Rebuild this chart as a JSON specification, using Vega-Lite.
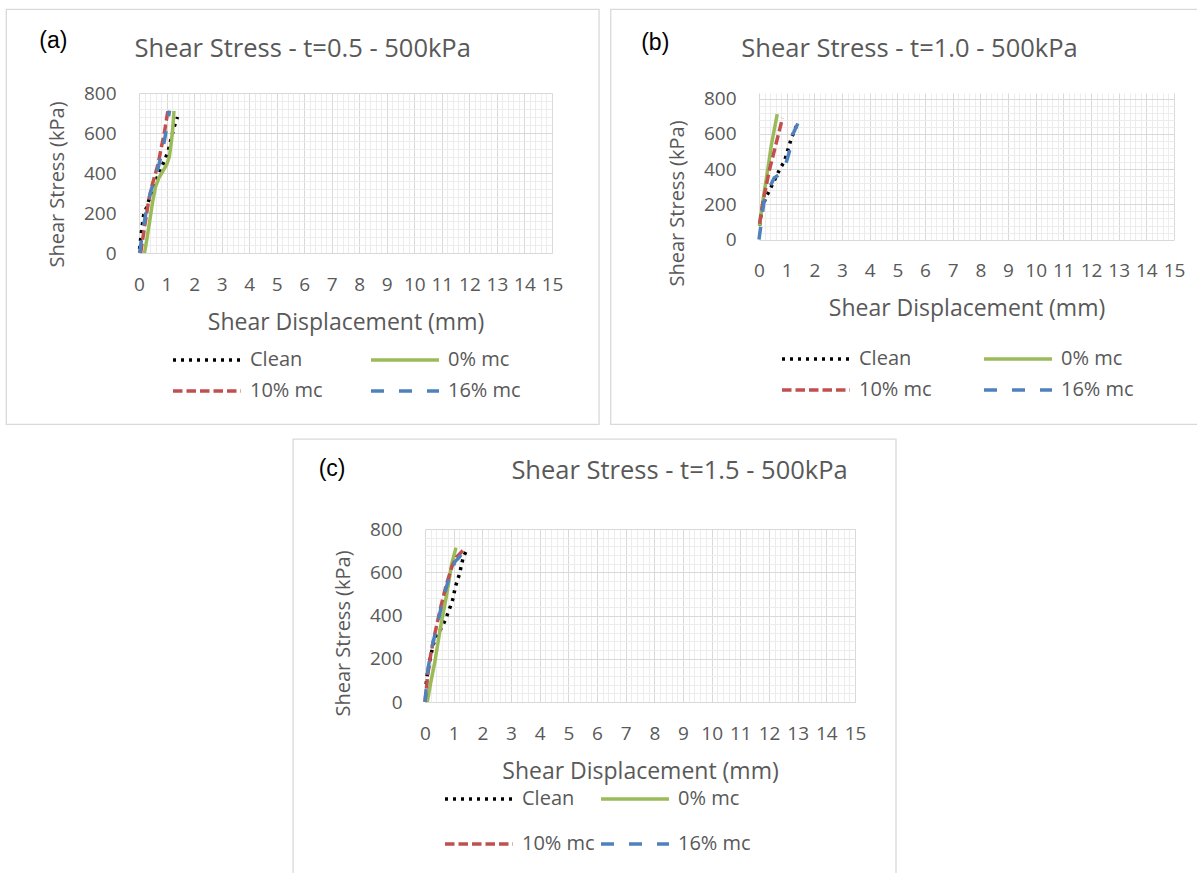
{
  "$schema": "https://vega.github.io/schema/vega-lite/v6.json",
  "background": "white",
  "padding": {"left": 5, "top": 8, "right": 0, "bottom": 0},
  "config": {
    "view": {"stroke": null},
    "axis": {
      "labelFont": "Open Sans", "labelFontSize": 19, "labelColor": "#595959",
      "titleFont": "Open Sans", "titleFontWeight": "normal", "titleColor": "#595959",
      "domain": false, "ticks": false, "grid": true, "gridWidth": 1, "gridOpacity": 1,
      "labelOverlap": false, "labelFlush": false
    },
    "axisX": {"titleFontSize": 23, "labelPadding": 22, "titlePadding": 17},
    "axisY": {"titleFontSize": 20, "labelPadding": 23, "titlePadding": 16},
    "title": {"font": "Open Sans", "fontSize": 25.5, "fontWeight": "normal", "color": "#595959", "baseline": "middle", "anchor": "middle", "frame": "bounds"},
    "legend": {
      "orient": "none", "direction": "horizontal", "columns": 2, "symbolType": "stroke", "symbolSize": 4624,
      "symbolStrokeWidth": 3.5, "labelOffset": 7, "labelFont": "Open Sans", "clipHeight": 20,
      "labelFontSize": 20, "labelColor": "#595959", "padding": 0, "title": null
    }
  },
  "datasets": {
    "t05": [
      {"series": "Clean", "disp": 0.02, "stress": 20}, {"series": "Clean", "disp": 0.1, "stress": 120}, {"series": "Clean", "disp": 0.17, "stress": 190}, {"series": "Clean", "disp": 0.28, "stress": 230}, {"series": "Clean", "disp": 0.45, "stress": 305}, {"series": "Clean", "disp": 0.6, "stress": 360}, {"series": "Clean", "disp": 0.75, "stress": 405}, {"series": "Clean", "disp": 0.9, "stress": 455}, {"series": "Clean", "disp": 1.05, "stress": 505}, {"series": "Clean", "disp": 1.2, "stress": 590}, {"series": "Clean", "disp": 1.3, "stress": 640}, {"series": "Clean", "disp": 1.4, "stress": 680},
      {"series": "0% mc", "disp": 0.2, "stress": 0}, {"series": "0% mc", "disp": 0.3, "stress": 80}, {"series": "0% mc", "disp": 0.4, "stress": 170}, {"series": "0% mc", "disp": 0.5, "stress": 260}, {"series": "0% mc", "disp": 0.6, "stress": 330}, {"series": "0% mc", "disp": 0.72, "stress": 375}, {"series": "0% mc", "disp": 0.87, "stress": 410}, {"series": "0% mc", "disp": 1.0, "stress": 440}, {"series": "0% mc", "disp": 1.1, "stress": 480}, {"series": "0% mc", "disp": 1.18, "stress": 560}, {"series": "0% mc", "disp": 1.23, "stress": 630}, {"series": "0% mc", "disp": 1.27, "stress": 710},
      {"series": "10% mc", "disp": 0.06, "stress": 0}, {"series": "10% mc", "disp": 0.2, "stress": 130}, {"series": "10% mc", "disp": 0.35, "stress": 260}, {"series": "10% mc", "disp": 0.45, "stress": 325}, {"series": "10% mc", "disp": 0.57, "stress": 385}, {"series": "10% mc", "disp": 0.69, "stress": 442}, {"series": "10% mc", "disp": 0.8, "stress": 520}, {"series": "10% mc", "disp": 0.93, "stress": 608}, {"series": "10% mc", "disp": 1.05, "stress": 712},
      {"series": "16% mc", "disp": 0.02, "stress": 0}, {"series": "16% mc", "disp": 0.15, "stress": 120}, {"series": "16% mc", "disp": 0.3, "stress": 240}, {"series": "16% mc", "disp": 0.45, "stress": 320}, {"series": "16% mc", "disp": 0.57, "stress": 360}, {"series": "16% mc", "disp": 0.72, "stress": 440}, {"series": "16% mc", "disp": 0.87, "stress": 525}, {"series": "16% mc", "disp": 1.0, "stress": 620}, {"series": "16% mc", "disp": 1.11, "stress": 712}
    ],
    "t10": [
      {"series": "Clean", "disp": 0.02, "stress": 80}, {"series": "Clean", "disp": 0.12, "stress": 180}, {"series": "Clean", "disp": 0.24, "stress": 236}, {"series": "Clean", "disp": 0.39, "stress": 283}, {"series": "Clean", "disp": 0.6, "stress": 350}, {"series": "Clean", "disp": 0.77, "stress": 406}, {"series": "Clean", "disp": 0.92, "stress": 444}, {"series": "Clean", "disp": 1.1, "stress": 539}, {"series": "Clean", "disp": 1.18, "stress": 580}, {"series": "Clean", "disp": 1.4, "stress": 662},
      {"series": "0% mc", "disp": 0.02, "stress": 80}, {"series": "0% mc", "disp": 0.15, "stress": 230}, {"series": "0% mc", "disp": 0.3, "stress": 380}, {"series": "0% mc", "disp": 0.45, "stress": 540}, {"series": "0% mc", "disp": 0.66, "stress": 712},
      {"series": "10% mc", "disp": 0.02, "stress": 90}, {"series": "10% mc", "disp": 0.15, "stress": 220}, {"series": "10% mc", "disp": 0.37, "stress": 390}, {"series": "10% mc", "disp": 0.61, "stress": 540}, {"series": "10% mc", "disp": 0.85, "stress": 690},
      {"series": "16% mc", "disp": 0.0, "stress": 0}, {"series": "16% mc", "disp": 0.1, "stress": 120}, {"series": "16% mc", "disp": 0.18, "stress": 217}, {"series": "16% mc", "disp": 0.37, "stress": 293}, {"series": "16% mc", "disp": 0.55, "stress": 350}, {"series": "16% mc", "disp": 0.73, "stress": 369}, {"series": "16% mc", "disp": 0.98, "stress": 435}, {"series": "16% mc", "disp": 1.1, "stress": 501}, {"series": "16% mc", "disp": 1.22, "stress": 596}, {"series": "16% mc", "disp": 1.44, "stress": 671}
    ],
    "t15": [
      {"series": "Clean", "disp": 0.04, "stress": 82}, {"series": "Clean", "disp": 0.08, "stress": 128}, {"series": "Clean", "disp": 0.18, "stress": 200}, {"series": "Clean", "disp": 0.29, "stress": 267}, {"series": "Clean", "disp": 0.43, "stress": 313}, {"series": "Clean", "disp": 0.58, "stress": 344}, {"series": "Clean", "disp": 0.72, "stress": 383}, {"series": "Clean", "disp": 0.89, "stress": 444}, {"series": "Clean", "disp": 0.99, "stress": 483}, {"series": "Clean", "disp": 1.05, "stress": 529}, {"series": "Clean", "disp": 1.2, "stress": 591}, {"series": "Clean", "disp": 1.28, "stress": 637}, {"series": "Clean", "disp": 1.33, "stress": 668}, {"series": "Clean", "disp": 1.45, "stress": 702},
      {"series": "0% mc", "disp": 0.08, "stress": 0}, {"series": "0% mc", "disp": 0.2, "stress": 90}, {"series": "0% mc", "disp": 0.35, "stress": 190}, {"series": "0% mc", "disp": 0.52, "stress": 329}, {"series": "0% mc", "disp": 0.76, "stress": 499}, {"series": "0% mc", "disp": 0.93, "stress": 637}, {"series": "0% mc", "disp": 1.08, "stress": 714},
      {"series": "10% mc", "disp": 0.0, "stress": 0}, {"series": "10% mc", "disp": 0.1, "stress": 130}, {"series": "10% mc", "disp": 0.2, "stress": 220}, {"series": "10% mc", "disp": 0.35, "stress": 320}, {"series": "10% mc", "disp": 0.55, "stress": 440}, {"series": "10% mc", "disp": 0.75, "stress": 545}, {"series": "10% mc", "disp": 0.95, "stress": 630}, {"series": "10% mc", "disp": 1.1, "stress": 670}, {"series": "10% mc", "disp": 1.25, "stress": 690}, {"series": "10% mc", "disp": 1.38, "stress": 710},
      {"series": "16% mc", "disp": 0.0, "stress": 0}, {"series": "16% mc", "disp": 0.1, "stress": 150}, {"series": "16% mc", "disp": 0.25, "stress": 260}, {"series": "16% mc", "disp": 0.4, "stress": 340}, {"series": "16% mc", "disp": 0.6, "stress": 460}, {"series": "16% mc", "disp": 0.85, "stress": 580}, {"series": "16% mc", "disp": 1.05, "stress": 650}, {"series": "16% mc", "disp": 1.2, "stress": 670}, {"series": "16% mc", "disp": 1.35, "stress": 700}
    ]
  },
  "spacing": 13,
  "resolve": {"scale": {"color": "independent", "strokeDash": "independent"}},
  "vconcat": [
    {
      "spacing": 10,
      "resolve": {"scale": {"color": "independent", "strokeDash": "independent"}},
      "hconcat": [
        {
          "width": 413, "height": 160,
          "title": {"text": "Shear Stress - t=0.5 - 500kPa", "offset": -54},
          "resolve": {"axis": {"x": "independent", "y": "independent"}},
          "layer": [
            {
              "data": {"values": [{}]},
              "mark": {"type": "rect", "fillOpacity": 0, "stroke": "#d9d9d9", "strokeWidth": 1.3},
              "encoding": {
                "x": {"datum": -4.82, "type": "quantitative", "axis": null}, "x2": {"datum": 16.71},
                "y": {"datum": 1218.5, "type": "quantitative", "axis": null}, "y2": {"datum": -856.5}
              }
            },
            {
              "data": {"values": [{}]},
              "mark": {"type": "text", "text": "(a)", "font": "Liberation Sans", "fontSize": 23, "color": "black"},
              "encoding": {"x": {"datum": -3.11, "type": "quantitative", "axis": null}, "y": {"datum": 1058, "type": "quantitative", "axis": null}}
            },
            {
              "data": {"name": "t05"},
              "mark": {"type": "line", "strokeWidth": 3.5},
              "encoding": {
                "x": {"field": "disp", "type": "quantitative", "scale": {"domain": [0, 15], "nice": false},
                  "axis": {"title": "Shear Displacement (mm)", "grid": true,
                    "values": [0,0.2,0.4,0.6,0.8,1,1.2,1.4,1.6,1.8,2,2.2,2.4,2.6,2.8,3,3.2,3.4,3.6,3.8,4,4.2,4.4,4.6,4.8,5,5.2,5.4,5.6,5.8,6,6.2,6.4,6.6,6.8,7,7.2,7.4,7.6,7.8,8,8.2,8.4,8.6,8.8,9,9.2,9.4,9.6,9.8,10,10.2,10.4,10.6,10.8,11,11.2,11.4,11.6,11.8,12,12.2,12.4,12.6,12.8,13,13.2,13.4,13.6,13.8,14,14.2,14.4,14.6,14.8,15],
                    "labelExpr": "abs(datum.value - round(datum.value)) < 1e-6 ? '' + round(datum.value) : ''",
                    "gridColor": {"condition": {"test": "abs(datum.value - round(datum.value)) < 1e-6", "value": "#d9d9d9"}, "value": "#ececec"}}},
                "y": {"field": "stress", "type": "quantitative", "scale": {"domain": [0, 800], "nice": false},
                  "axis": {"title": "Shear Stress (kPa)", "titleY": 91, "grid": true,
                    "values": [0,40,80,120,160,200,240,280,320,360,400,440,480,520,560,600,640,680,720,760,800],
                    "labelExpr": "datum.value % 200 === 0 ? '' + datum.value : ''",
                    "gridColor": {"condition": {"test": "datum.value % 200 === 0", "value": "#d9d9d9"}, "value": "#ececec"}}},
                "color": {"field": "series", "type": "nominal",
                  "scale": {"domain": ["Clean", "0% mc", "10% mc", "16% mc"], "range": ["#000000", "#9bbb59", "#c0504d", "#4f81bd"]},
                  "legend": {"legendX": 32, "legendY": 257, "columnPadding": 46, "rowPadding": 11}},
                "strokeDash": {"field": "series", "type": "nominal",
                  "scale": {"domain": ["Clean", "0% mc", "10% mc", "16% mc"], "range": [[3, 5], [1, 0], [9.5, 4], [13, 15]]},
                  "legend": {"legendX": 32, "legendY": 257, "columnPadding": 46, "rowPadding": 11}}
              }
            }
          ]
        },
        {
          "width": 415, "height": 146.6,
          "title": {"text": "Shear Stress - t=1.0 - 500kPa", "offset": -54, "dx": 5},
          "resolve": {"axis": {"x": "independent", "y": "independent"}},
          "layer": [
            {
              "data": {"values": [{}]},
              "mark": {"type": "rect", "fillOpacity": 0, "stroke": "#d9d9d9", "strokeWidth": 1.3},
              "encoding": {
                "x": {"datum": -5.36, "type": "quantitative", "axis": null}, "x2": {"datum": 15.88},
                "y": {"datum": 1306.7, "type": "quantitative", "axis": null}, "y2": {"datum": -1048}
              }
            },
            {
              "data": {"values": [{}]},
              "mark": {"type": "text", "text": "(b)", "font": "Liberation Sans", "fontSize": 23, "color": "black"},
              "encoding": {"x": {"datum": -3.75, "type": "quantitative", "axis": null}, "y": {"datum": 1113.8, "type": "quantitative", "axis": null}}
            },
            {
              "data": {"name": "t10"},
              "mark": {"type": "line", "strokeWidth": 3.5},
              "encoding": {
                "x": {"field": "disp", "type": "quantitative", "scale": {"domain": [0, 15], "nice": false},
                  "axis": {"title": "Shear Displacement (mm)", "grid": true,
                    "values": [0,0.2,0.4,0.6,0.8,1,1.2,1.4,1.6,1.8,2,2.2,2.4,2.6,2.8,3,3.2,3.4,3.6,3.8,4,4.2,4.4,4.6,4.8,5,5.2,5.4,5.6,5.8,6,6.2,6.4,6.6,6.8,7,7.2,7.4,7.6,7.8,8,8.2,8.4,8.6,8.8,9,9.2,9.4,9.6,9.8,10,10.2,10.4,10.6,10.8,11,11.2,11.4,11.6,11.8,12,12.2,12.4,12.6,12.8,13,13.2,13.4,13.6,13.8,14,14.2,14.4,14.6,14.8,15],
                    "labelExpr": "abs(datum.value - round(datum.value)) < 1e-6 ? '' + round(datum.value) : ''",
                    "gridColor": {"condition": {"test": "abs(datum.value - round(datum.value)) < 1e-6", "value": "#d9d9d9"}, "value": "#ececec"}}},
                "y": {"field": "stress", "type": "quantitative", "scale": {"domain": [0, 831.8], "nice": false},
                  "axis": {"title": "Shear Stress (kPa)", "titleY": 110, "grid": true,
                    "values": [0,40,80,120,160,200,240,280,320,360,400,440,480,520,560,600,640,680,720,760,800],
                    "labelExpr": "datum.value % 200 === 0 ? '' + datum.value : ''",
                    "gridColor": {"condition": {"test": "datum.value % 200 === 0", "value": "#d9d9d9"}, "value": "#ececec"}}},
                "color": {"field": "series", "type": "nominal",
                  "scale": {"domain": ["Clean", "0% mc", "10% mc", "16% mc"], "range": ["#000000", "#9bbb59", "#c0504d", "#4f81bd"]},
                  "legend": {"legendX": 21, "legendY": 256, "columnPadding": 50, "rowPadding": 11}},
                "strokeDash": {"field": "series", "type": "nominal",
                  "scale": {"domain": ["Clean", "0% mc", "10% mc", "16% mc"], "range": [[3, 5], [1, 0], [9.5, 4], [13, 15]]},
                  "legend": {"legendX": 21, "legendY": 256, "columnPadding": 50, "rowPadding": 11}}
              }
            }
          ]
        }
      ]
    },
    {
      "spacing": 0,
      "resolve": {"scale": {"color": "independent", "strokeDash": "independent"}},
      "hconcat": [
        {
          "width": 153, "height": 173,
          "data": {"values": []},
          "mark": "point"
        },
        {
          "width": 430, "height": 173,
          "title": {"text": "Shear Stress - t=1.5 - 500kPa", "offset": -46, "dx": 85},
          "resolve": {"axis": {"x": "independent", "y": "independent"}},
          "layer": [
            {
              "data": {"values": [{}]},
              "mark": {"type": "rect", "fillOpacity": 0, "stroke": "#d9d9d9", "strokeWidth": 1.3},
              "encoding": {
                "x": {"datum": -4.6, "type": "quantitative", "axis": null}, "x2": {"datum": 16.43},
                "y": {"datum": 1216, "type": "quantitative", "axis": null}, "y2": {"datum": -827}
              }
            },
            {
              "data": {"values": [{}]},
              "mark": {"type": "text", "text": "(c)", "font": "Liberation Sans", "fontSize": 23, "color": "black"},
              "encoding": {"x": {"datum": -3.24, "type": "quantitative", "axis": null}, "y": {"datum": 1077, "type": "quantitative", "axis": null}}
            },
            {
              "data": {"name": "t15"},
              "mark": {"type": "line", "strokeWidth": 3.5},
              "encoding": {
                "x": {"field": "disp", "type": "quantitative", "scale": {"domain": [0, 15], "nice": false},
                  "axis": {"title": "Shear Displacement (mm)", "grid": true,
                    "values": [0,0.2,0.4,0.6,0.8,1,1.2,1.4,1.6,1.8,2,2.2,2.4,2.6,2.8,3,3.2,3.4,3.6,3.8,4,4.2,4.4,4.6,4.8,5,5.2,5.4,5.6,5.8,6,6.2,6.4,6.6,6.8,7,7.2,7.4,7.6,7.8,8,8.2,8.4,8.6,8.8,9,9.2,9.4,9.6,9.8,10,10.2,10.4,10.6,10.8,11,11.2,11.4,11.6,11.8,12,12.2,12.4,12.6,12.8,13,13.2,13.4,13.6,13.8,14,14.2,14.4,14.6,14.8,15],
                    "labelExpr": "abs(datum.value - round(datum.value)) < 1e-6 ? '' + round(datum.value) : ''",
                    "gridColor": {"condition": {"test": "abs(datum.value - round(datum.value)) < 1e-6", "value": "#d9d9d9"}, "value": "#ececec"}}},
                "y": {"field": "stress", "type": "quantitative", "scale": {"domain": [0, 800], "nice": false},
                  "axis": {"title": "Shear Stress (kPa)", "titleY": 104, "grid": true,
                    "values": [0,40,80,120,160,200,240,280,320,360,400,440,480,520,560,600,640,680,720,760,800],
                    "labelExpr": "datum.value % 200 === 0 ? '' + datum.value : ''",
                    "gridColor": {"condition": {"test": "datum.value % 200 === 0", "value": "#d9d9d9"}, "value": "#ececec"}}},
                "color": {"field": "series", "type": "nominal",
                  "scale": {"domain": ["Clean", "0% mc", "10% mc", "16% mc"], "range": ["#000000", "#9bbb59", "#c0504d", "#4f81bd"]},
                  "legend": {"legendX": 18, "legendY": 260, "columnPadding": 4, "rowPadding": 25}},
                "strokeDash": {"field": "series", "type": "nominal",
                  "scale": {"domain": ["Clean", "0% mc", "10% mc", "16% mc"], "range": [[3, 5], [1, 0], [9.5, 4], [13, 15]]},
                  "legend": {"legendX": 18, "legendY": 260, "columnPadding": 4, "rowPadding": 25}}
              }
            }
          ]
        }
      ]
    }
  ]
}
